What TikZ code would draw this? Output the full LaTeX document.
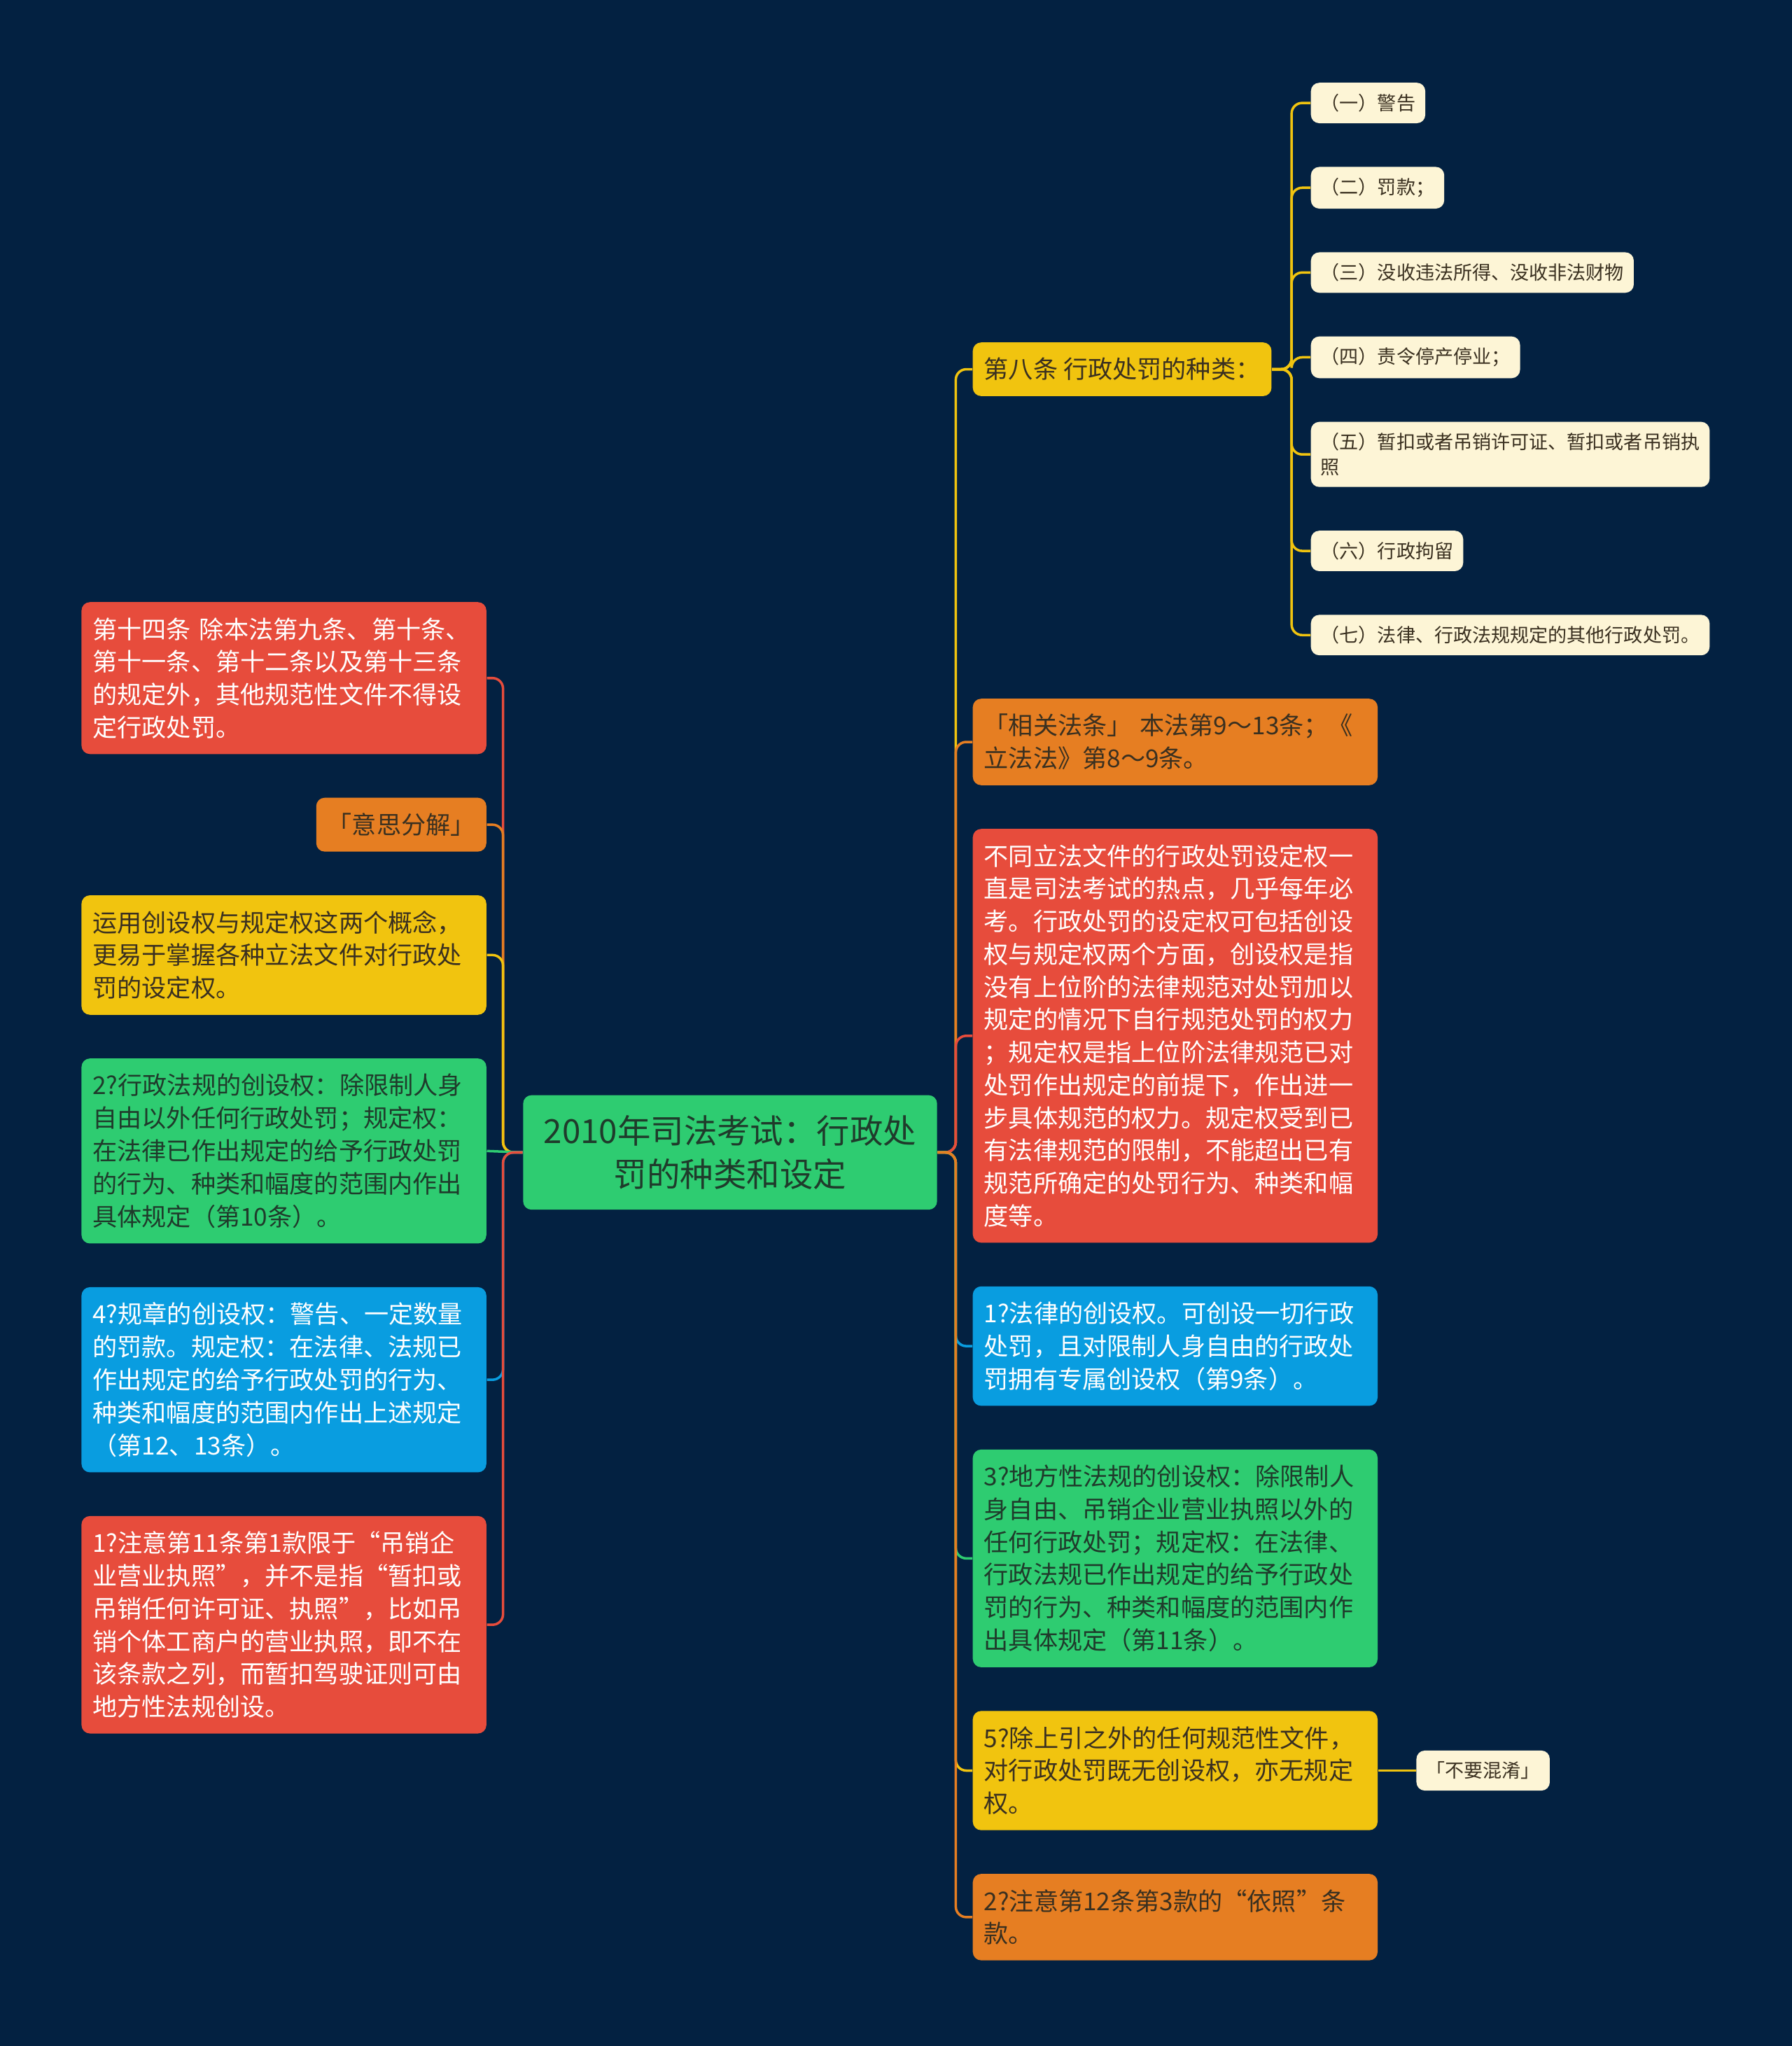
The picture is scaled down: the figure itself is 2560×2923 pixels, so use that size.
\documentclass[tikz,border=0pt]{standalone}
\usepackage{fontspec}
\setmainfont{Noto Sans CJK SC}
\usetikzlibrary{positioning}
\usepackage{xcolor}

\definecolor{bgnavy}{HTML}{032141}
\definecolor{boxred}{HTML}{E74C3C}
\definecolor{boxorange}{HTML}{E67E22}
\definecolor{boxyellow}{HTML}{F1C40F}
\definecolor{boxgreen}{HTML}{2ECC71}
\definecolor{boxblue}{HTML}{099DE0}
\definecolor{cream}{HTML}{FDF5D6}
\definecolor{darkink}{HTML}{3A3020}
\definecolor{greenink}{HTML}{1F3B2B}

\begin{document}
\begin{tikzpicture}[
            x=0.01cm, y=-0.01cm,
            node distance=0.61cm,
            base/.style={rectangle, rounded corners=0.12cm, align=left, inner xsep=0.16cm, inner ysep=0.22cm, font=\fontsize{10pt}{13.3pt}\selectfont},
            topic/.style={base, text width=5.46cm},
            leaf/.style={rectangle, rounded corners=0.12cm, align=left, fill=cream, text=darkink, inner xsep=0.14cm, inner ysep=0.16cm, font=\fontsize{7.7pt}{10.1pt}\selectfont},
            root/.style={rectangle, rounded corners=0.12cm, align=center, fill=boxgreen, text=greenink, minimum width=5.91cm, inner ysep=0.29cm, font=\fontsize{13.5pt}{17.5pt}\selectfont},
            link/.style={line width=1pt, rounded corners=0.15cm}
        ]
            \fill[bgnavy] (0,0) rectangle (2560,2923);
            \useasboundingbox (0,0) rectangle (2560,2923);

            % --- CENTRO ---
            \node[root] (root) at (1043,1646.4) {2010年司法考试：行政处\\罚的种类和设定};

            % --- RAMOS DA ESQUERDA ---
            \node[topic, fill=boxred, text=white, anchor=north east] (lred1) at (695.5,859.5) {第十四条 除本法第九条、第十条、\\第十一条、第十二条以及第十三条\\的规定外，其他规范性文件不得设\\定行政处罚。};
            \node[base, fill=boxorange, text=darkink, below=of lred1.south east, anchor=north east] (lorange) {「意思分解」};
            \node[topic, fill=boxyellow, text=darkink, below=of lorange.south east, anchor=north east] (lyellow) {运用创设权与规定权这两个概念，\\更易于掌握各种立法文件对行政处\\罚的设定权。};
            \node[topic, fill=boxgreen, text=greenink, below=of lyellow.south east, anchor=north east] (lgreen) {2?行政法规的创设权：除限制人身\\自由以外任何行政处罚；规定权：\\在法律已作出规定的给予行政处罚\\的行为、种类和幅度的范围内作出\\具体规定（第10条）。};
            \node[topic, fill=boxblue, text=white, below=of lgreen.south east, anchor=north east] (lblue) {4?规章的创设权：警告、一定数量\\的罚款。规定权：在法律、法规已\\作出规定的给予行政处罚的行为、\\种类和幅度的范围内作出上述规定\\（第12、13条）。};
            \node[topic, fill=boxred, text=white, below=of lblue.south east, anchor=north east] (lred2) {1?注意第11条第1款限于“吊销企\\业营业执照”，并不是指“暂扣或\\吊销任何许可证、执照”，比如吊\\销个体工商户的营业执照，即不在\\该条款之列，而暂扣驾驶证则可由\\地方性法规创设。};

            % --- RAMOS DA DIREITA ---
            \node[base, fill=boxyellow, text=darkink, anchor=north west] (ra) at (1389,488.5) {第八条 行政处罚的种类：};
            \node[topic, fill=boxorange, text=darkink, anchor=north west] (rb) at (1389,997.5) {「相关法条」 本法第9～13条；《\\立法法》第8～9条。};
            \node[topic, fill=boxred, text=white, below=of rb.south west, anchor=north west] (rc) {不同立法文件的行政处罚设定权一\\直是司法考试的热点，几乎每年必\\考。行政处罚的设定权可包括创设\\权与规定权两个方面，创设权是指\\没有上位阶的法律规范对处罚加以\\规定的情况下自行规范处罚的权力\\；规定权是指上位阶法律规范已对\\处罚作出规定的前提下，作出进一\\步具体规范的权力。规定权受到已\\有法律规范的限制，不能超出已有\\规范所确定的处罚行为、种类和幅\\度等。};
            \node[topic, fill=boxblue, text=white, below=of rc.south west, anchor=north west] (rd) {1?法律的创设权。可创设一切行政\\处罚，且对限制人身自由的行政处\\罚拥有专属创设权（第9条）。};
            \node[topic, fill=boxgreen, text=greenink, below=of rd.south west, anchor=north west] (re) {3?地方性法规的创设权：除限制人\\身自由、吊销企业营业执照以外的\\任何行政处罚；规定权：在法律、\\行政法规已作出规定的给予行政处\\罚的行为、种类和幅度的范围内作\\出具体规定（第11条）。};
            \node[topic, fill=boxyellow, text=darkink, below=of re.south west, anchor=north west] (rf) {5?除上引之外的任何规范性文件，\\对行政处罚既无创设权，亦无规定\\权。};
            \node[topic, fill=boxorange, text=darkink, below=of rf.south west, anchor=north west] (rg) {2?注意第12条第3款的“依照”条\\款。};
            \node[leaf, right=0.54cm of rf] (rmix) {「不要混淆」};

            % --- TIPOS DE PENALIDADE (filhos do artigo 8) ---
            \node[leaf, anchor=north west] (k1) at (1872,117.5) {（一）警告};
            \node[leaf, below=of k1.south west, anchor=north west] (k2) {（二）罚款；};
            \node[leaf, below=of k2.south west, anchor=north west] (k3) {（三）没收违法所得、没收非法财物};
            \node[leaf, below=of k3.south west, anchor=north west] (k4) {（四）责令停产停业；};
            \node[leaf, below=of k4.south west, anchor=north west] (k5) {（五）暂扣或者吊销许可证、暂扣或者吊销执\\照};
            \node[leaf, below=of k5.south west, anchor=north west] (k6) {（六）行政拘留};
            \node[leaf, below=of k6.south west, anchor=north west] (k7) {（七）法律、行政法规规定的其他行政处罚。};

            % Barramentos verticais
            \coordinate (lbus) at ([xshift=-0.28cm]root.west);
            \coordinate (rbus) at ([xshift=0.26cm]root.east);
            \coordinate (kbus) at ([xshift=0.28cm]ra.east);

            % Ligações da esquerda
            \foreach \n/\c in {lred1/boxred, lorange/boxorange, lyellow/boxyellow}
                \draw[link, \c] (root.west) -- (lbus) |- (\n.east);
            \draw[link, boxgreen] (root.west) -- (lgreen.east);
            \foreach \n/\c in {lblue/boxblue, lred2/boxred}
                \draw[link, \c] (root.west) -- (lbus) |- (\n.east);

            % Ligações da direita
            \foreach \n/\c in {ra/boxyellow, rb/boxorange, rc/boxred, rd/boxblue, re/boxgreen, rf/boxyellow, rg/boxorange}
                \draw[link, \c] (root.east) -- (rbus) |- (\n.west);
            \foreach \k in {k1,k2,k3,k4,k5,k6,k7}
                \draw[link, boxyellow] (ra.east) -- (kbus) |- (\k.west);
            \draw[link, boxyellow] (rf.east) -- (rmix.west);

        \end{tikzpicture}
\end{document}
